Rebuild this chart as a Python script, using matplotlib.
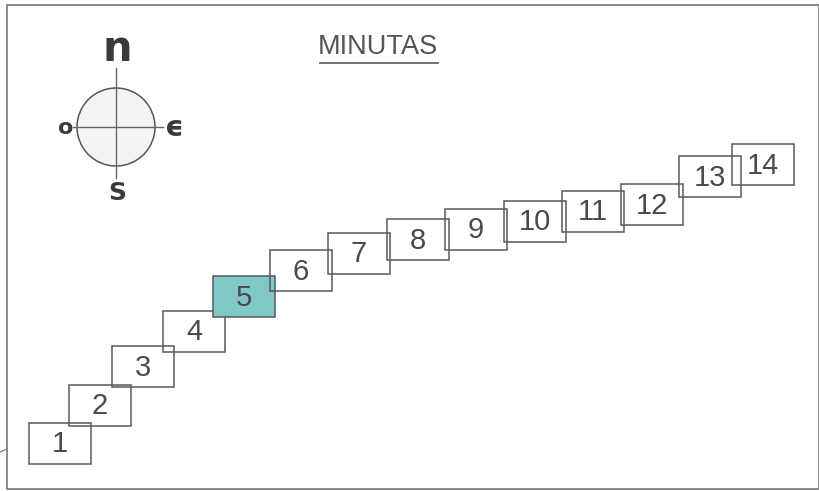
"""Minutas - staircase of numbered boxes with a compass."""

import matplotlib.pyplot as plt
from matplotlib.patches import Rectangle, Circle

# box labels and where each box sits (left x, top y, in picture pixels)
labels = ["1", "2", "3", "4", "5", "6", "7", "8", "9", "10", "11", "12", "13", "14"]
box_left = [29, 69, 112, 163, 213, 270, 328, 387, 445, 504, 562, 621, 679, 732]
box_top = [423, 385, 346, 311, 276, 250, 233, 219, 209, 201, 191, 184, 156, 144]
highlight = "5"

BOX_W = 62
BOX_H = 41
EDGE = "#585858"
TEXT = "#4a4a4a"

fig = plt.figure(figsize=(8.2, 4.91), dpi=100)
ax = fig.add_axes([0, 0, 1, 1])
ax.set_xlim(0, 820)
ax.set_ylim(491, 0)
ax.axis("off")

# outer frame
ax.add_patch(Rectangle((7, 5), 812, 484, fill=False, edgecolor="#777777", linewidth=1.2))
ax.plot([0, 7], [452, 449], color="#777777", linewidth=0.8)

# title
ax.text(378, 47, "MINUTAS", ha="center", va="center", fontsize=19.5, color="#555555",
        family=["Liberation Sans", "DejaVu Sans"])
ax.plot([320, 438], [63, 63], color="#666666", linewidth=1.3)

# compass
cx, cy, r = 116, 127, 39
ax.add_patch(Circle((cx, cy), r, facecolor="#f4f4f4", edgecolor="#555555", linewidth=1.1))
ax.plot([cx, cx], [68, 178], color="#666666", linewidth=1.0)
ax.plot([73, 163], [cy, cy], color="#666666", linewidth=1.0)
ax.text(cx + 1, 49, "n", ha="center", va="center", fontsize=30, fontweight="bold", color="#3a3a3a")
ax.text(cx + 1, 193, "S", ha="center", va="center", fontsize=18, fontweight="bold", color="#3a3a3a")
ax.text(66, 128, "o", ha="center", va="center", fontsize=16, fontweight="bold", color="#3a3a3a")
ax.text(174, 128, "ϵ", ha="center", va="center", fontsize=21, fontweight="bold", color="#3a3a3a")

# numbered boxes
for lab, x, y in zip(labels, box_left, box_top):
    face = "#80c8c8" if lab == highlight else "none"
    ax.add_patch(Rectangle((x, y), BOX_W, BOX_H, facecolor=face, edgecolor=EDGE, linewidth=1.1))
for lab, x, y in zip(labels, box_left, box_top):
    ax.text(x + BOX_W / 2, y + BOX_H / 2 + 1, lab, ha="center", va="center",
            fontsize=21, color=TEXT, family=["Liberation Sans", "DejaVu Sans"])

fig.savefig("out.png", dpi=100)
